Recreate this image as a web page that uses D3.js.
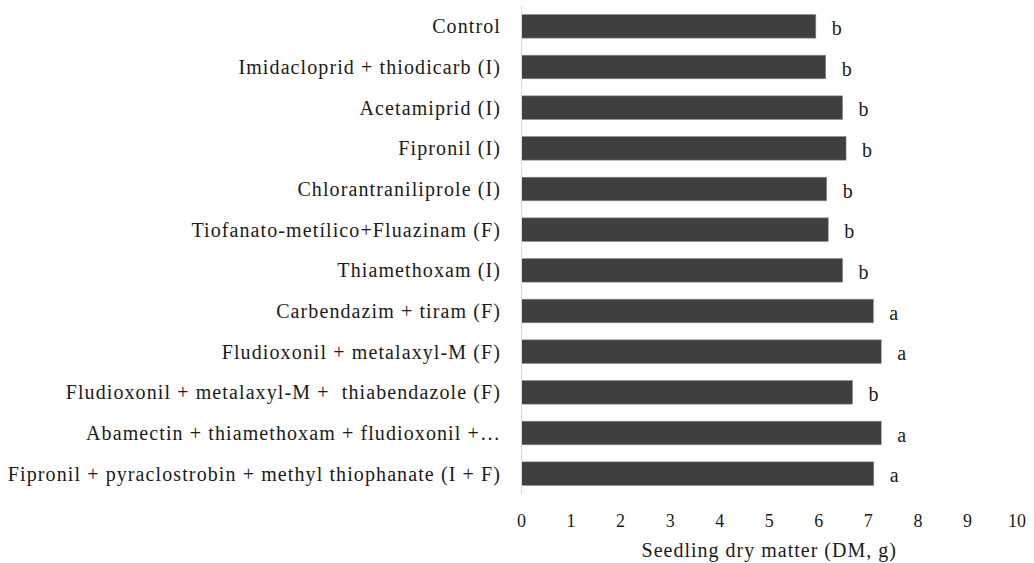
<!DOCTYPE html>
<html>
<head>
<meta charset="utf-8">
<script src="https://cdn.jsdelivr.net/npm/d3@7"></script>
<style>
  html, body { margin: 0; padding: 0; background: #fff; }
  svg { display: block; }
  text { font-family: "Liberation Serif", "Times New Roman", serif; fill: #1a1a1a; }
</style>
</head>
<body>
<svg id="chart" width="1034" height="563"></svg>
<script>
// Seed treatments (top to bottom)
const treatments = [
  "Control",
  "Imidacloprid + thiodicarb (I)",
  "Acetamiprid (I)",
  "Fipronil (I)",
  "Chlorantraniliprole (I)",
  "Tiofanato-metílico+Fluazinam (F)",
  "Thiamethoxam (I)",
  "Carbendazim + tiram (F)",
  "Fludioxonil + metalaxyl-M (F)",
  "Fludioxonil + metalaxyl-M +  thiabendazole (F)",
  "Abamectin + thiamethoxam + fludioxonil +…",
  "Fipronil + pyraclostrobin + methyl thiophanate (I + F)"
];

// Seedling dry matter (g)
const dryMatter = [5.94, 6.14, 6.48, 6.55, 6.16, 6.19, 6.48, 7.10, 7.26, 6.68, 7.26, 7.11];

// Mean-comparison letters
const groups = ["b", "b", "b", "b", "b", "b", "b", "a", "a", "b", "a", "a"];

const xTicks = [0, 1, 2, 3, 4, 5, 6, 7, 8, 9, 10];
const xTitle = "Seedling dry matter (DM, g)";

const rows = treatments.map((name, i) => ({ name, value: dryMatter[i], group: groups[i] }));

const svg = d3.select("#chart");

const x = d3.scaleLinear().domain([0, 10]).range([521.5, 1017]);
const y = d3.scaleBand()
  .domain(treatments)
  .range([6, 494])
  .paddingInner(0.42)
  .paddingOuter(0.21);

// bars
svg.append("g")
  .selectAll("rect")
  .data(rows)
  .join("rect")
  .attr("x", x(0))
  .attr("y", d => y(d.name))
  .attr("width", d => x(d.value) - x(0))
  .attr("height", y.bandwidth())
  .attr("fill", "#3f3f3f")
  .attr("stroke", "#8a8a8a")
  .attr("stroke-width", 0.6);

// category axis line
svg.append("line")
  .attr("x1", x(0)).attr("x2", x(0))
  .attr("y1", y.range()[0]).attr("y2", y.range()[1])
  .attr("stroke", "#d9d9d9")
  .attr("stroke-width", 1);

// category labels
svg.append("g")
  .selectAll("text")
  .data(rows)
  .join("text")
  .attr("x", 501)
  .attr("y", d => y(d.name) + y.bandwidth() / 2 + 7)
  .attr("text-anchor", "end")
  .attr("font-size", 20)
  .attr("letter-spacing", 1.1)
  .style("white-space", "pre")
  .text(d => d.name);

// group letters
svg.append("g")
  .selectAll("text")
  .data(rows)
  .join("text")
  .attr("x", d => x(d.value) + 16)
  .attr("y", d => y(d.name) + y.bandwidth() / 2 + 8.5)
  .attr("font-size", 20)
  .text(d => d.group);

// value axis tick labels
svg.append("g")
  .selectAll("text")
  .data(xTicks)
  .join("text")
  .attr("x", d => x(d))
  .attr("y", 527)
  .attr("text-anchor", "middle")
  .attr("font-size", 18)
  .text(d => d);

// axis title
svg.append("text")
  .attr("x", (x.range()[0] + x.range()[1]) / 2)
  .attr("y", 557)
  .attr("text-anchor", "middle")
  .attr("font-size", 20)
  .attr("letter-spacing", 1)
  .text(xTitle);
</script>
</body>
</html>
